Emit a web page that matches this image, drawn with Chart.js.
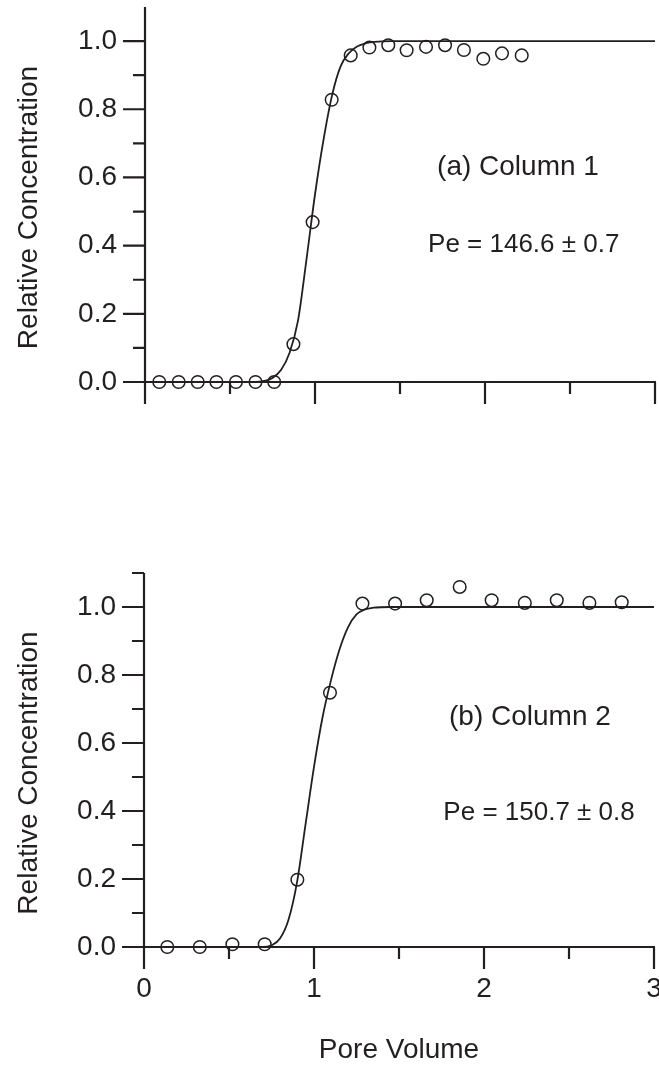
<!DOCTYPE html>
<html>
<head>
<meta charset="utf-8">
<script src="https://cdn.jsdelivr.net/npm/chart.js@4.4.0/dist/chart.umd.min.js"></script>
<style>
  html, body { margin: 0; padding: 0; background: #fff; }
  #wrap { position: relative; width: 659px; height: 1068px; }
  canvas { position: absolute; left: 0; }
  #col1 { top: 0; }
  #col2 { top: 530px; }
</style>
</head>
<body>
<div id="wrap">
  <canvas id="col1" width="659" height="440"></canvas>
  <canvas id="col2" width="659" height="538"></canvas>
</div>
<script>
const INK = "#231f20";
const FONT = "'Liberation Sans', Arial, Helvetica, sans-serif";

// Column 1: measured breakthrough (pore volume, relative concentration)
const COL1_PV = [0.084, 0.198, 0.31, 0.42, 0.535, 0.65, 0.76, 0.873, 0.986, 1.098,
    1.21, 1.32, 1.431, 1.539, 1.653, 1.765, 1.876, 1.99, 2.10, 2.216];
const COL1_C = [0, 0, 0, 0, 0, 0, 0, 0.111, 0.469, 0.828,
    0.958, 0.981, 0.988, 0.973, 0.983, 0.988, 0.974, 0.948, 0.964, 0.958];
// Column 1: fitted curve
const COL1_FIT_PV = [0, 0.65, 0.70, 0.75, 0.80, 0.85, 0.90, 0.95, 1.00, 1.05, 1.10, 1.15, 1.20, 1.25, 1.30, 1.35, 1.45, 3.0];
const COL1_FIT_C = [0, 0, 0.003, 0.012, 0.035, 0.085, 0.18, 0.36, 0.55, 0.71, 0.84, 0.925, 0.965, 0.985, 0.994, 0.998, 1.0, 1.0];

// Column 2: measured breakthrough
const COL2_PV = [0.137, 0.328, 0.52, 0.71, 0.902, 1.094, 1.285, 1.477, 1.663, 1.857, 2.045, 2.24, 2.428, 2.62, 2.81];
const COL2_C = [0.0, 0.0, 0.008, 0.008, 0.198, 0.748, 1.01, 1.01, 1.02, 1.059, 1.02, 1.012, 1.02, 1.012, 1.014];
// Column 2: fitted curve
const COL2_FIT_PV = [0, 0.70, 0.75, 0.80, 0.85, 0.90, 0.95, 1.00, 1.05, 1.10, 1.15, 1.20, 1.25, 1.30, 1.35, 1.45, 3.0];
const COL2_FIT_C = [0, 0, 0.005, 0.025, 0.08, 0.19, 0.36, 0.53, 0.675, 0.785, 0.875, 0.94, 0.978, 0.993, 0.998, 1.0, 1.0];

// axis ticks
const X_MAJOR = [0, 1, 2, 3];
const X_MINOR = [0.5, 1.5, 2.5];
const Y_MAJOR = [0, 0.2, 0.4, 0.6, 0.8, 1.0];
const Y_MINOR = [0.1, 0.3, 0.5, 0.7, 0.9];
const Y_MINOR_COL2 = [0.1, 0.3, 0.5, 0.7, 0.9, 1.1];

const toPoints = (xs, ys) => xs.map((x, i) => ({ x: x, y: ys[i] }));

// crossing axes with outward ticks, rotated y title and the two text notes
const axisFrame = {
    id: "axisFrame",
    beforeDatasetsDraw(chart, args, opts) {
        const ctx = chart.ctx;
        const xs = chart.scales.x;
        const ys = chart.scales.y;
        const x0 = xs.getPixelForValue(0);
        const y0 = ys.getPixelForValue(0);
        const major = 22;
        const minor = 12;
        ctx.save();
        ctx.strokeStyle = INK;
        ctx.lineWidth = 2.2;
        ctx.beginPath();
        ctx.moveTo(x0, ys.getPixelForValue(ys.max));
        ctx.lineTo(x0, y0 + major);
        ctx.moveTo(x0 - major, y0);
        ctx.lineTo(xs.getPixelForValue(xs.max) + 1, y0);
        Y_MAJOR.forEach((v) => {
            const p = ys.getPixelForValue(v);
            ctx.moveTo(x0 - major, p);
            ctx.lineTo(x0, p);
        });
        opts.yMinor.forEach((v) => {
            const p = ys.getPixelForValue(v);
            ctx.moveTo(x0 - minor, p);
            ctx.lineTo(x0, p);
        });
        X_MAJOR.forEach((v) => {
            const p = xs.getPixelForValue(v);
            ctx.moveTo(p, y0);
            ctx.lineTo(p, y0 + major);
        });
        X_MINOR.forEach((v) => {
            const p = xs.getPixelForValue(v);
            ctx.moveTo(p, y0);
            ctx.lineTo(p, y0 + minor);
        });
        ctx.stroke();
        ctx.restore();
    },
    afterDatasetsDraw(chart, args, opts) {
        const ctx = chart.ctx;
        const area = chart.chartArea;
        const xs = chart.scales.x;
        const ys = chart.scales.y;
        ctx.save();
        ctx.fillStyle = INK;
        ctx.textBaseline = "alphabetic";
        ctx.textAlign = "left";
        opts.notes.forEach((n) => {
            ctx.font = n.size + "px " + FONT;
            ctx.fillText(n.text, xs.getPixelForValue(n.x), ys.getPixelForValue(n.y));
        });
        ctx.font = "28px " + FONT;
        ctx.translate(37, (area.top + area.bottom) / 2 + 13);
        ctx.rotate(-Math.PI / 2);
        ctx.textAlign = "center";
        ctx.fillText("Relative Concentration", 0, 0);
        ctx.restore();
    },
};

const makeChart = (id, obs, fit, cfg) => {
    return new Chart(document.getElementById(id), {
        type: "scatter",
        data: {
            datasets: [
                {
                    data: fit,
                    showLine: true,
                    borderColor: INK,
                    borderWidth: 1.8,
                    pointRadius: 0,
                    cubicInterpolationMode: "monotone",
                },
                {
                    data: obs,
                    borderColor: INK,
                    backgroundColor: "rgba(0,0,0,0)",
                    borderWidth: 1.5,
                    pointRadius: 6.3,
                    clip: false,
                },
            ],
        },
        options: {
            responsive: false,
            animation: false,
            events: [],
            layout: { padding: cfg.padding, autoPadding: false },
            plugins: {
                legend: { display: false },
                tooltip: { enabled: false },
                axisFrame: { yMinor: cfg.yMinor, notes: cfg.notes },
            },
            scales: {
                x: {
                    type: "linear",
                    min: 0,
                    max: 3,
                    grid: { display: false, drawTicks: false },
                    border: { display: false },
                    ticks: {
                        display: cfg.xLabels,
                        stepSize: 1,
                        padding: 25,
                        color: INK,
                        font: { family: FONT, size: 28 },
                        callback: (v) => (X_MAJOR.includes(v) ? String(v) : ""),
                    },
                    title: {
                        display: cfg.xLabels,
                        text: "Pore Volume",
                        color: INK,
                        font: { family: FONT, size: 28 },
                        padding: { top: 0, bottom: 1 },
                    },
                    afterFit: (s) => {
                        s.height = cfg.xHeight;
                        s.paddingLeft = 0;
                        s.paddingRight = 0;
                    },
                },
                y: {
                    type: "linear",
                    min: 0,
                    max: 1.1,
                    grid: { display: false, drawTicks: false },
                    border: { display: false },
                    ticks: {
                        stepSize: 0.1,
                        autoSkip: false,
                        padding: 28,
                        color: INK,
                        font: { family: FONT, size: 28 },
                        callback: (v) => {
                            const major = Y_MAJOR.find((m) => Math.abs(m - v) < 1e-6);
                            return major === undefined ? "" : major.toFixed(1);
                        },
                    },
                    afterFit: (s) => {
                        s.width = cfg.yWidth;
                        s.paddingTop = 0;
                        s.paddingBottom = 0;
                    },
                },
            },
        },
        plugins: [axisFrame],
    });
};

makeChart("col1", toPoints(COL1_PV, COL1_C), toPoints(COL1_FIT_PV, COL1_FIT_C), {
    padding: { top: 7, right: 4, left: 0, bottom: 0 },
    yWidth: 145,
    xHeight: 58,
    xLabels: false,
    yMinor: Y_MINOR,
    notes: [
        { text: "(a) Column 1", x: 1.718, y: 0.606, size: 28 },
        { text: "Pe = 146.6 \u00b1 0.7", x: 1.665, y: 0.382, size: 26 },
    ],
});

makeChart("col2", toPoints(COL2_PV, COL2_C), toPoints(COL2_FIT_PV, COL2_FIT_C), {
    padding: { top: 43, right: 5, left: 0, bottom: 0 },
    yWidth: 144,
    xHeight: 121,
    xLabels: true,
    yMinor: Y_MINOR_COL2,
    notes: [
        { text: "(b) Column 2", x: 1.794, y: 0.654, size: 28 },
        { text: "Pe = 150.7 \u00b1 0.8", x: 1.761, y: 0.373, size: 26 },
    ],
});
</script>
</body>
</html>
